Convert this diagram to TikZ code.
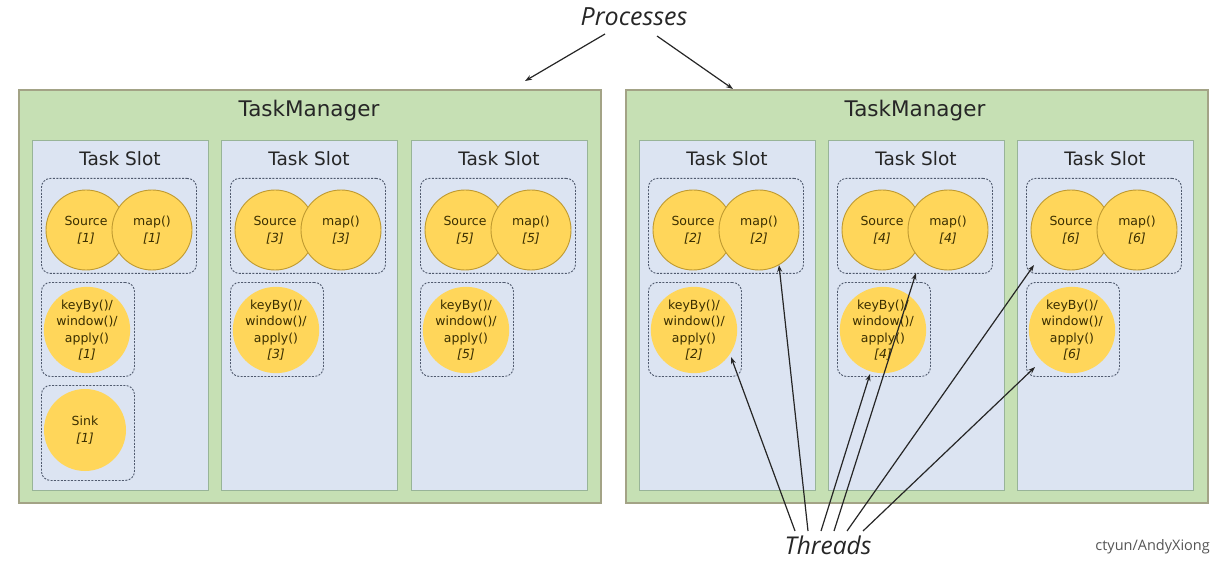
\documentclass[tikz,border=0pt]{standalone}
\usepackage{fontspec}
\setmainfont{DejaVu Sans}
\newfontfamily\itfont{Open Sans}
\usetikzlibrary{arrows.meta}
\definecolor{tmfill}{HTML}{C6E0B4}
\definecolor{tmborder}{HTML}{A3A386}
\definecolor{slotfill}{HTML}{DCE4F2}
\definecolor{slotborder}{HTML}{98B498}
\definecolor{grpborder}{HTML}{505A6E}
\definecolor{opfill}{HTML}{FFD65A}
\definecolor{opborder}{HTML}{BF9A30}
\definecolor{optext}{HTML}{3A2E00}
\definecolor{wm}{HTML}{555555}
\begin{document}
\begin{tikzpicture}[x=1pt,y=-1pt,
  tm/.style={draw=tmborder,fill=tmfill,line width=2pt,rectangle,anchor=north west,inner sep=0pt,minimum width=582pt,minimum height=413pt},
  tmtitle/.style={font=\fontsize{21.5}{24}\selectfont,text=black!85},
  slotbox/.style={draw=slotborder,fill=slotfill,line width=1.4pt,rectangle,anchor=north west,inner sep=0pt,minimum width=176pt,minimum height=350pt},
  slottitle/.style={font=\fontsize{18.5}{22}\selectfont,text=black!85},
  grp/.style={draw=grpborder,dash pattern=on 2pt off 1.4pt,line width=0.9pt,rounded corners=9pt,rectangle,anchor=north west,inner sep=0pt},
  op/.style={circle,fill=opfill,minimum size=79pt,inner sep=0pt,font=\fontsize{12.5}{16.5}\selectfont,text=optext,align=center},
  opl/.style={op,draw=opborder,line width=0.9pt,minimum size=80pt},
  lbl/.style={font=\itfont\itshape\fontsize{25}{28}\selectfont,text=black!85,inner sep=0pt},
  arr/.style={line width=1.2pt,draw=black!85,-{Stealth[length=7pt,width=5pt]}}
]
\useasboundingbox (0,0) rectangle (1212,561);
\node[tm] (tmL) at (18,89) {};
\node[tm] (tmR) at (625,89) {};
\node[tmtitle] (tmLt) at (309,111) {TaskManager};
\node[tmtitle] (tmRt) at (915,111) {TaskManager};
\foreach \L/\n in {32/1,221/3,411/5,639/2,828/4,1017/6} {
  \node[slotbox] (slot\n) at (\L,140) {};
  \node[slottitle] (title\n) at (\L+88,159) {Task Slot};
  \node[grp,minimum width=155pt,minimum height=95pt] (g\n) at (\L+9,178) {};
  \node[opl] (src\n) at (\L+54,230) {Source\\\textit{[\n]}};
  \node[opl] (map\n) at (\L+120,230) {map()\\\textit{[\n]}};
  \node[grp,minimum width=93pt,minimum height=94pt] (k\n) at (\L+9,282) {};
  \node[op] (kb\n) at (\L+55,330) {keyBy()/\\window()/\\apply()\\\textit{[\n]}};
  \ifnum\n=1
    \node[grp,minimum width=93pt,minimum height=95pt] (s\n) at (\L+9,385) {};
    \node[op,minimum size=82pt] (sink\n) at (\L+53,430) {Sink\\\textit{[\n]}};
  \fi
}
% Processes
\node[lbl] (proc) at (634,17) {Processes};
\coordinate (pa) at (605,34);
\coordinate (pb) at (657,36);
\coordinate (pl) at (525,81);
\coordinate (pr) at (733,89);
\draw[arr] (pa) -- (pl);
\draw[arr] (pb) -- (pr);
% Threads
\node[lbl,font=\itfont\itshape\fontsize{24.5}{28}\selectfont] (thr) at (828,545) {Threads};
\coordinate (t1) at (795,531);
\coordinate (t2) at (808,531);
\coordinate (t3) at (821,531);
\coordinate (t4) at (834,531);
\coordinate (t5) at (847,531);
\coordinate (t6) at (863,531);
\coordinate (e1) at (731,357);
\coordinate (e2) at (779,265);
\coordinate (e3) at (870,374);
\coordinate (e4) at (916,273);
\coordinate (e5) at (1034,265);
\coordinate (e6) at (1035,367);
\foreach \i in {1,...,6} { \draw[arr] (t\i) -- (e\i); }
\node[font=\fontsize{14.5}{16}\selectfont\itfont,text=wm,anchor=east,inner sep=0pt] (wmk) at (1210,547) {ctyun/AndyXiong};
\end{tikzpicture}
\end{document}
